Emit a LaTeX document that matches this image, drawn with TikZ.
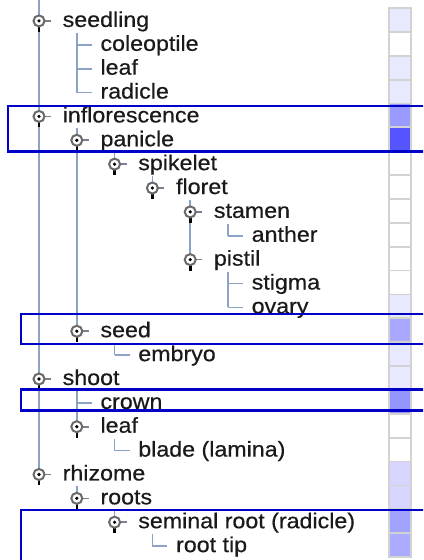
\documentclass[tikz,border=0pt]{standalone}
\usepackage{fontspec}
\setmainfont[FakeStretch=1.08,FakeBold=0.5]{Liberation Sans}
\usetikzlibrary{calc}
\definecolor{linec}{HTML}{8AA3C6}
\definecolor{icongray}{HTML}{6A6A6A}
\definecolor{boxblue}{HTML}{0000C8}
\definecolor{cellgray}{HTML}{D2D2D2}
\definecolor{txt}{HTML}{1A1A1A}
\begin{document}
\begin{tikzpicture}[x=1bp,y=-1bp,
  declare function={ry(\k)=9+23.87*(\k-0.5); cx(\l)=39+37.8*\l;},
  lbl/.style={anchor=base west, inner sep=0pt, text=txt, font=\fontsize{21.5bp}{24bp}\selectfont},
  tree/.style={draw=linec, line width=1.7bp},
  ico/.style={circle, draw=icongray, fill=white, line width=2bp, minimum size=11bp, inner sep=0pt},
  stem/.style={draw=black, line width=2.6bp},
  icodash/.style={draw=icongray!60!linec, line width=1.6bp},
  cell/.style={draw=cellgray, line width=1.8bp, minimum width=21.4bp, minimum height=23.87bp, inner sep=0pt},
  selbox/.style={draw=boxblue, line width=2.2bp}]
\useasboundingbox (0,0) rectangle (423,560);
\clip (0,0) rectangle (423,560);
\fill[white] (0,0) rectangle (423,560);

% rows: positions and labels
\foreach \k/\l/\t in {1/0/seedling, 2/1/coleoptile, 3/1/leaf, 4/1/radicle,
  5/0/inflorescence, 6/1/panicle, 7/2/spikelet, 8/3/floret, 9/4/stamen,
  10/5/anther, 11/4/pistil, 12/5/stigma, 13/5/ovary, 14/1/seed, 15/2/embryo,
  16/0/shoot, 17/1/crown, 18/1/leaf, 19/2/blade (lamina), 20/0/rhizome,
  21/1/roots, 22/2/seminal root (radicle), 23/3/root tip} {
  \coordinate (p\k) at ({cx(\l)},{ry(\k)});
  \node[lbl] (t\k) at ({cx(\l)+23.5},{ry(\k)+6}) {\t};
}
\coordinate (top0) at ({cx(0)},0);

% tree lines
\draw[tree] (top0) -- (p20);
\draw[tree] ($(p2|-p1)+(0,12)$) -- (p4);
\draw[tree] ($(p6|-p5)+(0,12)$) -- (p14);
\draw[tree] ($(p7|-p6)+(0,12)$) -- (p7);
\draw[tree] ($(p8|-p7)+(0,12)$) -- (p8);
\draw[tree] ($(p9|-p8)+(0,12)$) -- (p11);
\draw[tree] ($(p10|-p9)+(0,12)$) -- (p10);
\draw[tree] ($(p12|-p11)+(0,12)$) -- (p13);
\draw[tree] ($(p15|-p14)+(0,12)$) -- (p15);
\draw[tree] ($(p17|-p16)+(0,12)$) -- (p18);
\draw[tree] ($(p19|-p18)+(0,12)$) -- (p19);
\draw[tree] ($(p21|-p20)+(0,12)$) -- (p21);
\draw[tree] ($(p22|-p21)+(0,12)$) -- (p22);
\draw[tree] ($(p23|-p22)+(0,12)$) -- (p23);

% leaf ticks
\foreach \k in {2,3,4,10,12,13,15,17,19,23} {
  \draw[tree] (p\k) -- ++(15,0);
}

% expandable icons
\foreach \k in {1,5,6,7,8,9,11,14,16,18,20,21,22} {
  \draw[icodash] (p\k) -- ++(12,0);
  \draw[stem] ($(p\k)+(0,4)$) -- ++(0,7);
  \node[ico] (i\k) at (p\k) {};
  \fill[black] (i\k.center) circle[radius=1.8bp];
}

% colour column
\foreach \k/\c in {1/E8E8FF, 2/FFFFFF, 3/E8E8FF, 4/E8E8FF, 5/9999FF, 6/5555FF,
  7/FFFFFF, 8/FFFFFF, 9/FFFFFF, 10/FFFFFF, 11/FFFFFF, 12/FFFFFF, 13/E8E8FF,
  14/A8A8FF, 15/E8E8FF, 16/E8E8FF, 17/9494FF, 18/FFFFFF, 19/FFFFFF,
  20/D6D6FF, 21/D6D6FF, 22/A2A2FF, 23/ABABFF} {
  \definecolor{cc}{HTML}{\c}
  \node[cell, fill=cc] (c\k) at (400,{8+23.87*(\k-0.5)}) {};
}

% selection boxes
\draw[selbox] (8,106) rectangle (440,151.5);
\draw[selbox] (21,314) rectangle (440,344);
\draw[selbox] (21,389.5) rectangle (440,410.5);
\draw[selbox] (21,510) rectangle (440,575);
\end{tikzpicture}
\end{document}
